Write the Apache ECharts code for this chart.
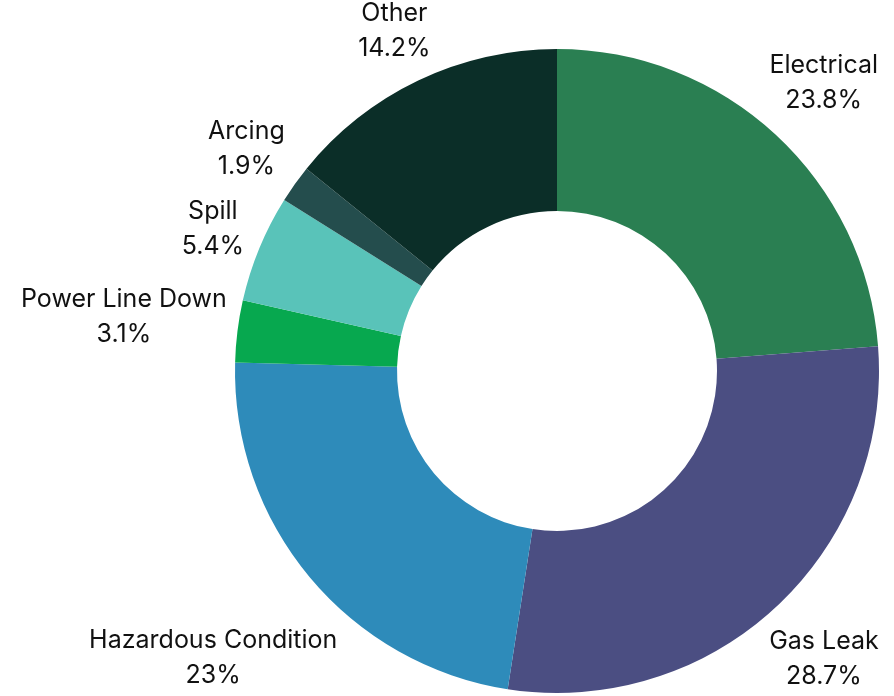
<!DOCTYPE html>
<html>
<head>
<meta charset="utf-8">
<script src="https://cdn.jsdelivr.net/npm/echarts@6/dist/echarts.min.js"></script>
<style>
  html, body { margin: 0; padding: 0; background: #fff; }
  #container { width: 894px; height: 696px; }
</style>
</head>
<body>
<div id="container"></div>
<script>
var categories = ['Electrical', 'Gas Leak', 'Hazardous Condition', 'Power Line Down', 'Spill', 'Arcing', 'Other'];
var values = [23.8, 28.7, 23, 3.1, 5.4, 1.9, 14.2];
var colors = ['#2a7f52', '#4b4e82', '#2e8bba', '#07a84f', '#59c3b9', '#244d4d', '#0b2e28'];

var cx = 557, cy = 371, rOuter = 322, rInner = 160;
var total = values.reduce(function (a, b) { return a + b; }, 0);

// mid angle of each slice, measured clockwise from 12 o'clock
var midAngles = [];
var acc = 0;
for (var i = 0; i < values.length; i++) {
  midAngles.push((acc + values[i] / 2) / total * Math.PI * 2);
  acc += values[i];
}

var dom = document.getElementById('container');
var myChart = echarts.init(dom);
var option = {
  animation: false,
  series: [{
    type: 'pie',
    center: [cx, cy],
    radius: [rInner, rOuter],
    startAngle: 90,
    clockwise: true,
    avoidLabelOverlap: false,
    data: categories.map(function (c, i) {
      return { name: c, value: values[i], itemStyle: { color: colors[i] } };
    }),
    label: {
      show: true,
      position: 'outside',
      formatter: function (p) { return p.name + '\n' + p.value + '%'; },
      fontFamily: 'Inter',
      fontSize: 25,
      lineHeight: 35,
      color: '#111'
    },
    labelLine: { show: false },
    labelLayout: function (params) {
      var a = midAngles[params.dataIndex];
      var s = Math.sin(a), c = Math.cos(a);
      var w = params.labelRect.width, h = params.labelRect.height;
      var d = rOuter + 8 + Math.abs(s) * w / 2 + Math.abs(c) * h / 2;
      return {
        x: cx + s * d,
        y: cy - c * d,
        align: 'center',
        verticalAlign: 'middle'
      };
    }
  }]
};
myChart.setOption(option);
</script>
</body>
</html>
